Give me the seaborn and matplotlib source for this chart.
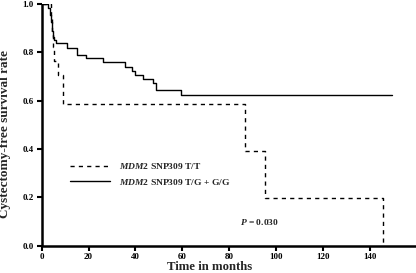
import numpy as np
import pandas as pd
import seaborn as sns
import matplotlib.pyplot as plt

# Kaplan-Meier step points (time in months, survival)
tt_time = [0, 3.9, 4.3, 4.7, 5.5, 7.0, 9.0, 86.8, 95.3, 145.2]
tt_surv = [1.0, 0.941, 0.882, 0.824, 0.765, 0.706, 0.588, 0.392, 0.196, 0.0]

tg_time = [0, 2.9, 3.5, 4.0, 4.4, 4.8, 5.2, 6.0, 10.9, 14.9, 19.0, 26.2,
           35.5, 38.6, 39.7, 43.0, 47.3, 48.7, 59.4, 149.0]
tg_surv = [1.0, 0.985, 0.955, 0.925, 0.89, 0.865, 0.85, 0.837, 0.819, 0.79,
           0.777, 0.761, 0.74, 0.722, 0.708, 0.689, 0.673, 0.643, 0.622, 0.622]

labels = [r'$\mathit{MDM2}$ SNP309 T/T', r'$\mathit{MDM2}$ SNP309 T/G + G/G']
x_ticks = [0, 20, 40, 60, 80, 100, 120, 140]
y_ticks = [0.0, 0.2, 0.4, 0.6, 0.8, 1.0]

sns.set_style('ticks')
plt.rcParams['font.family'] = ['Liberation Serif', 'DejaVu Serif']
plt.rcParams['font.weight'] = 'bold'
plt.rcParams['mathtext.fontset'] = 'custom'
plt.rcParams['mathtext.it'] = 'Liberation Serif:italic:bold'
plt.rcParams['mathtext.rm'] = 'Liberation Serif:bold'

fig = plt.figure(figsize=(4.16, 2.73), dpi=100)
ax = fig.add_axes([0.0998, 0.100, 0.9002, 0.885])

sns.lineplot(x=tt_time, y=tt_surv, drawstyle='steps-post', color='black',
             linewidth=1.0, linestyle=(0, (3, 3)), label=labels[0], ax=ax)
sns.lineplot(x=tg_time, y=tg_surv, drawstyle='steps-post', color='black',
             linewidth=1.0, label=labels[1], ax=ax)

ax.set_xlim(0, 159.4)
ax.set_ylim(0, 1.0)
ax.set_xticks(x_ticks)
ax.set_yticks(y_ticks)
ax.set_yticklabels([f'{v:.1f}' for v in y_ticks])
ax.tick_params(axis='both', labelsize=6.5, width=1.5, length=3.5, pad=2, colors='black')
for lbl in ax.get_xticklabels() + ax.get_yticklabels():
    lbl.set_fontweight('bold')

for side in ['top', 'right']:
    ax.spines[side].set_visible(False)
for side in ['left', 'bottom']:
    ax.spines[side].set_linewidth(1.8)
    ax.spines[side].set_color('black')
    ax.spines[side].set_capstyle('butt')

ax.set_xlabel('Time in months', fontsize=9.2, fontweight='bold')
ax.xaxis.set_label_coords(0.45, -0.062)
ax.set_ylabel('Cystectomy-free survival rate', fontsize=9.5, fontweight='bold')
ax.yaxis.set_label_coords(-0.082, 0.462)

ax.legend(loc='upper left', bbox_to_anchor=(0.076, 0.35), frameon=False,
          fontsize=6.8, handlelength=4.2, handletextpad=1.0, borderpad=0,
          borderaxespad=0, labelspacing=0.6, prop={'weight': 'bold', 'size': 6.8})

ax.text(84.5, 0.098, r'$\mathit{P}$ = 0.030', fontsize=6.8, fontweight='bold',
        ha='left', va='center')

fig.savefig('out.png', dpi=100)
